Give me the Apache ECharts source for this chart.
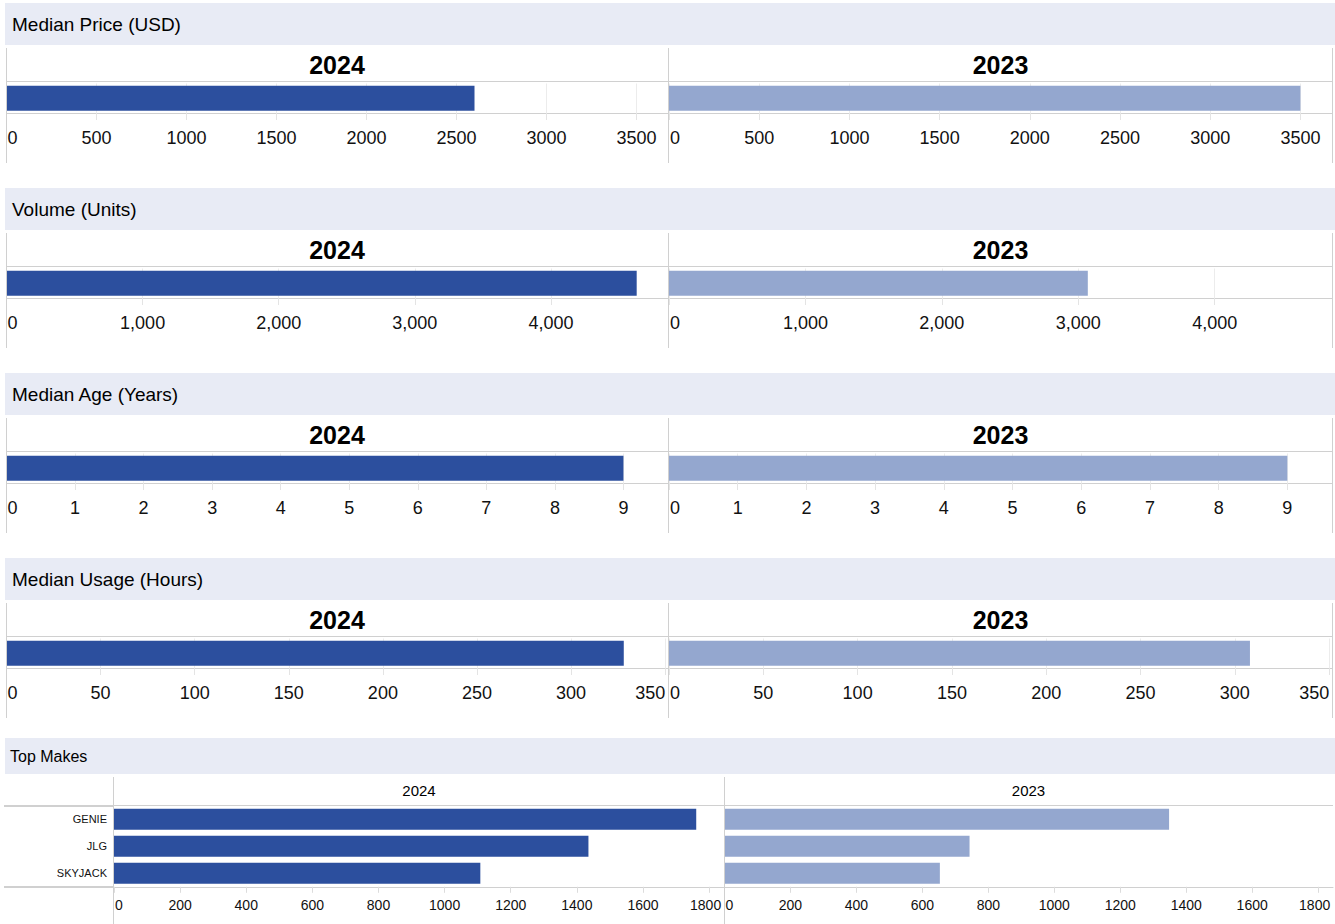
<!DOCTYPE html>
<html><head><meta charset="utf-8">
<script src="https://cdn.jsdelivr.net/npm/echarts@6/dist/echarts.min.js"></script>
<style>html,body{margin:0;padding:0;background:#fff}#c{width:1335px;height:924px}</style>
</head><body><div id="c"></div>
<script>
// ---- data ----
const years = ['2024', '2023'];
const metricTitles = ['Median Price (USD)', 'Volume (Units)', 'Median Age (Years)', 'Median Usage (Hours)'];
const metric2024 = [2600, 4630, 9.0, 328];
const metric2023 = [3500, 3070, 9.0, 308];
const metricAxisMax = [3675, 4860, 9.65, 351.5];
const metricTickStep = [500, 1000, 1, 50];
const metricTickComma = [false, true, false, false];
const makesTitle = 'Top Makes';
const makes = ['GENIE', 'JLG', 'SKYJACK'];
const makes2024 = [1761, 1435, 1108];
const makes2023 = [1348, 743, 653];
const makesAxisMax = 1845;
const makesTickStep = 200;

// ---- layout / style ----
const FONT = '"Liberation Sans", Arial, Helvetica, sans-serif';
const barColors = ['#2c4f9e', '#94a7cf'];
const bandColor = '#e8ebf5';
const lineColor = '#d0d0d0';
const ROW = 185;

const grids = [], xAxes = [], yAxes = [], series = [], graphics = [];

function fmt(v, comma) {
  return comma ? v.toLocaleString('en-US') : String(v);
}
// Labels are centred on ticks; the first is flush-left and labels that would
// overflow the panel end are pushed back inside it.
function labelFormatter(max, step, comma, width, fontPx) {
  return function (v) {
    if (Math.abs(v / step - Math.round(v / step)) > 1e-6) return '';
    const s = fmt(v, comma);
    if (v === 0) return '{l|' + s + '}';
    const halfW = s.replace(/,/g, '').length * 0.556 * fontPx / 2 + (s.split(',').length - 1) * 0.278 * fontPx / 2;
    const px = (max - v) / max * width;
    const overflow = halfW + 3 - px;
    if (overflow > 0) {
      const pad = Math.round(overflow * 2);
      return '{p' + pad + '|' + s + '}';
    }
    return s;
  };
}
function richFor(fontPx) {
  const w0 = fontPx * 0.556;
  const rich = {
    l: { fontSize: fontPx, fontFamily: FONT, color: '#111', padding: [0, 0, 0, Math.round(w0 + 2)] }
  };
  for (let p = 1; p <= 60; p++) {
    rich['p' + p] = { fontSize: fontPx, fontFamily: FONT, color: '#111', padding: [0, p, 0, 0] };
  }
  return rich;
}

function addLine(x1, y1, x2, y2, w) {
  graphics.push({ type: 'line', silent: true, z: 10,
    shape: { x1: x1, y1: y1, x2: x2, y2: y2 },
    style: { stroke: lineColor, lineWidth: w || 1 } });
}
function addText(x, y, text, font, align) {
  graphics.push({ type: 'text', silent: true, z: 11, x: x, y: y,
    style: { text: text, font: font, fill: '#000', align: align || 'left', verticalAlign: 'middle' } });
}

// metric rows
metricTitles.forEach(function (title, r) {
  const o = ROW * r;
  graphics.push({ type: 'rect', silent: true, z: 1,
    shape: { x: 5, y: 3 + o, width: 1330, height: 42 }, style: { fill: bandColor } });
  addText(12, 24 + o, title, '19px ' + FONT);
  addText(337, 64.5 + o, years[0], 'bold 25px ' + FONT, 'center');
  addText(1000.5, 64.5 + o, years[1], 'bold 25px ' + FONT, 'center');
  [6.5, 668.5, 1332.5].forEach(function (x) { addLine(x, 48 + o, x, 163 + o); });
  addLine(6, 81.5 + o, 1332, 81.5 + o);

  const vals = [metric2024[r], metric2023[r]];
  [0, 1].forEach(function (c) {
    const gi = grids.length;
    const left = c === 0 ? 6.5 : 669;
    const width = c === 0 ? 661.5 : 663;
    grids.push({ left: left, top: 83.5 + o, width: width, height: 29.5, containLabel: false, outerBoundsMode: 'none' });
    xAxes.push({
      type: 'value', gridIndex: gi, min: 0, max: metricAxisMax[r], interval: metricTickStep[r],
      axisLine: { show: true, lineStyle: { color: lineColor } },
      axisTick: { show: true, length: 7, lineStyle: { color: '#e4e4e4' } },
      splitLine: { show: true, lineStyle: { color: '#ececec' } },
      axisLabel: {
        show: true, showMaxLabel: false, showMinLabel: true, margin: 16,
        fontSize: 18, fontFamily: FONT, color: '#111',
        formatter: labelFormatter(metricAxisMax[r], metricTickStep[r], metricTickComma[r], width, 18),
        rich: richFor(18)
      }
    });
    yAxes.push({ type: 'category', gridIndex: gi, data: [title],
      axisLine: { show: false }, axisTick: { show: false }, axisLabel: { show: false }, splitLine: { show: false } });
    series.push({ type: 'bar', xAxisIndex: gi, yAxisIndex: gi, data: [vals[c]], barWidth: 25,
      itemStyle: { color: barColors[c] }, silent: true });
  });
});

// top makes row
(function () {
  graphics.push({ type: 'rect', silent: true, z: 1,
    shape: { x: 5, y: 738, width: 1330, height: 36 }, style: { fill: bandColor } });
  addText(10, 756, makesTitle, '16px ' + FONT);
  addText(419, 790.5, years[0], '15px ' + FONT, 'center');
  addText(1028.5, 790.5, years[1], '15px ' + FONT, 'center');
  addLine(113.5, 777, 113.5, 924);
  addLine(724.5, 777, 724.5, 924);
  addLine(4, 805.5, 1333, 805.5);
  addLine(4, 806.5, 113, 806.5);
  addLine(4, 886.5, 114, 886.5);
  addLine(4, 887.5, 113, 887.5);

  const vals = [makes2024, makes2023];
  [0, 1].forEach(function (c) {
    const gi = grids.length;
    const left = c === 0 ? 114 : 724.5;
    const width = c === 0 ? 610 : 608.5;
    grids.push({ left: left, top: 805.8, width: width, height: 81, containLabel: false, outerBoundsMode: 'none' });
    xAxes.push({
      type: 'value', gridIndex: gi, min: 0, max: makesAxisMax, interval: makesTickStep,
      axisLine: { show: true, lineStyle: { color: lineColor } },
      axisTick: { show: true, length: 6, lineStyle: { color: '#dcdcdc' } },
      splitLine: { show: false },
      axisLabel: {
        show: true, showMaxLabel: false, margin: 11,
        fontSize: 14, fontFamily: FONT, color: '#111',
        formatter: labelFormatter(makesAxisMax, makesTickStep, false, width, 14),
        rich: richFor(14)
      }
    });
    yAxes.push({ type: 'category', gridIndex: gi, data: makes, inverse: true,
      axisLine: { show: false }, axisTick: { show: false }, splitLine: { show: false },
      axisLabel: { show: c === 0, margin: 7, fontSize: 11, fontFamily: FONT, color: '#111' } });
    series.push({ type: 'bar', xAxisIndex: gi, yAxisIndex: gi, data: vals[c], barWidth: 21,
      itemStyle: { color: barColors[c] }, silent: true });
  });
})();

const chart = echarts.init(document.getElementById('c'), null, { renderer: 'svg' });
chart.setOption({
  animation: false,
  backgroundColor: '#ffffff',
  grid: grids, xAxis: xAxes, yAxis: yAxes, series: series,
  graphic: { elements: graphics }
});
</script>
</body></html>
